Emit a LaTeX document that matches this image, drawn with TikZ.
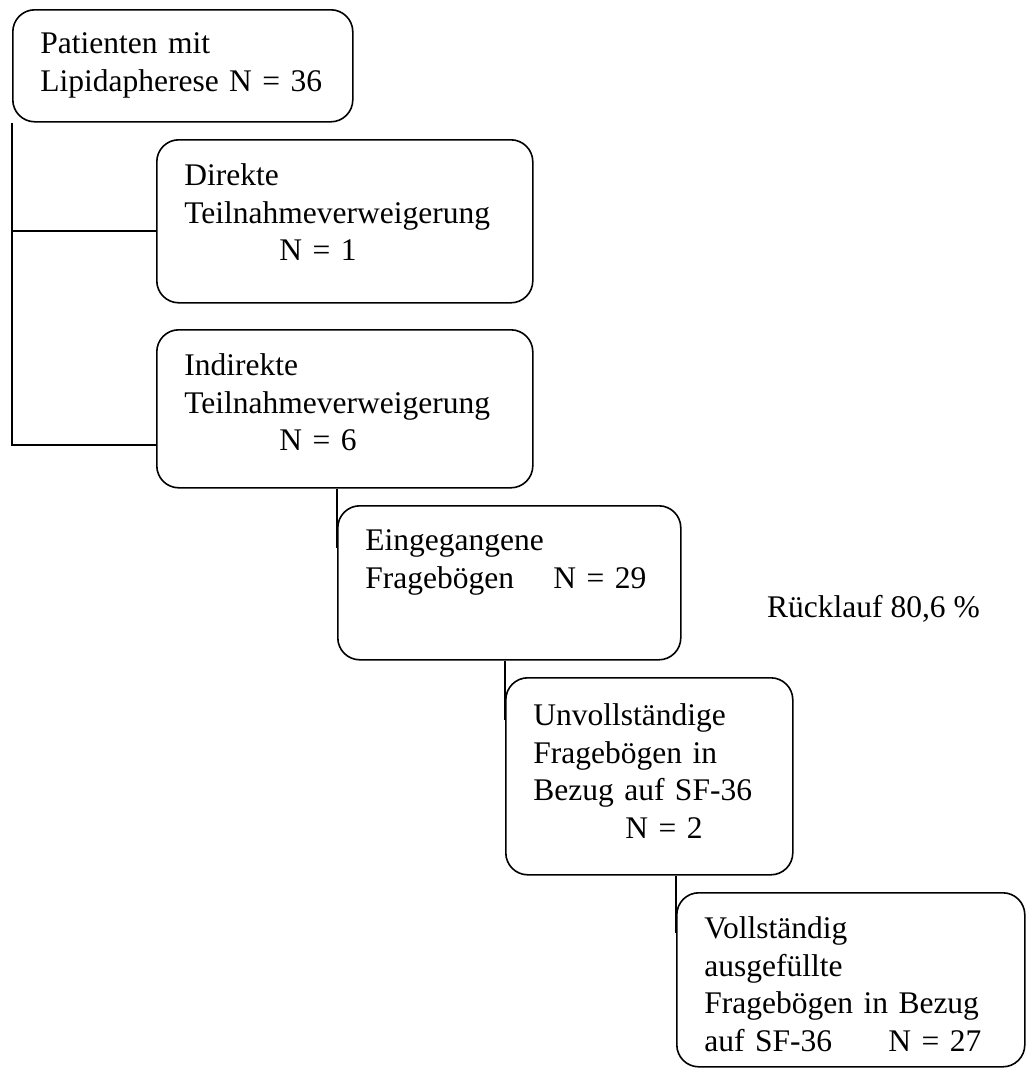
\documentclass[tikz,border=0pt]{standalone}
\usepackage{fontspec}
\setmainfont{Liberation Serif}
\usetikzlibrary{positioning,calc}

\begin{document}
\begin{tikzpicture}[
  x=1pt, y=-1pt,
  stage/.style={draw, rounded corners=22pt, line width=1.6pt, anchor=north west,
    align=left, inner xsep=27.5pt, inner ysep=0pt,
    font=\fontsize{31.5}{37.5}\selectfont},
  link/.style={draw, line width=1.6pt}
]
  \useasboundingbox (0,0) rectangle (1027,1068);

  % Stages of the flow
  \node[stage, text width=285pt, text height=44pt, text depth=68pt] (pat) at (12,9)
    {Patienten mit\\Lipidapherese N = 36};
  \node[stage, text width=321pt, text height=46pt, text depth=117pt] (direkt) at (156,139)
    {Direkte\\Teilnahmeverweigerung\\\hspace*{95pt}N = 1};
  \node[stage, text width=321pt, text height=46pt, text depth=112pt] (indirekt) at (156,329)
    {Indirekte\\Teilnahmeverweigerung\\\hspace*{95pt}N = 6};
  \node[stage, text width=288pt, text height=45pt, text depth=109pt] (eingang) at (337,505)
    {Eingegangene\\\makebox[188pt][l]{Fragebögen}N = 29};
  \node[stage, text width=232pt, text height=48pt, text depth=149pt] (unvoll) at (505,677)
    {Unvollständige\\Fragebögen in\\Bezug auf SF-36\\\hspace*{92pt}N = 2};
  \node[stage, text width=293pt, text height=46pt, text depth=128pt] (vollst) at (676,892)
    {Vollständig\\ausgefüllte\\Fragebögen in Bezug\\\makebox[184pt][l]{auf SF-36}N = 27};

  \node[anchor=base west, inner sep=0pt, font=\fontsize{31.5}{37.5}\selectfont]
    (ruecklauf) at (767,617) {Rücklauf 80,6 \%};

  % Connectors
  \draw[link] (pat.south west) |- ($(direkt.north west)+(0,92)$);
  \draw[link] (pat.south west) |- ($(indirekt.north west)+(0,116)$);
  \draw[link] (eingang.north west |- indirekt.south) -- ($(eingang.north west)+(0,43)$);
  \draw[link] (unvoll.north west |- eingang.south) -- ($(unvoll.north west)+(0,43)$);
  \draw[link] (vollst.north west |- unvoll.south) -- ($(vollst.north west)+(0,41)$);
\end{tikzpicture}
\end{document}
